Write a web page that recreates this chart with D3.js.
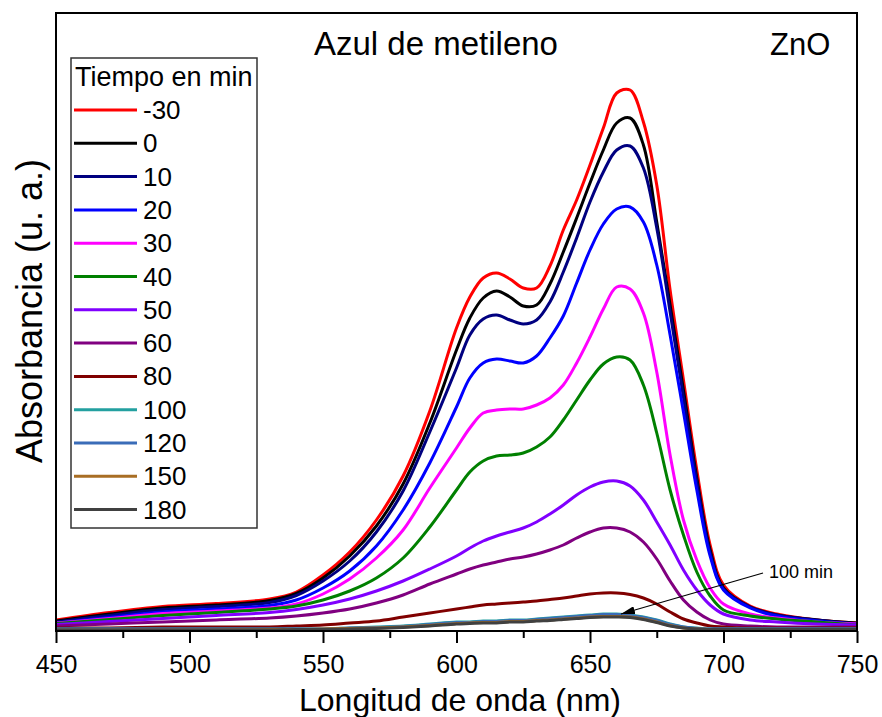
<!DOCTYPE html>
<html>
<head>
<meta charset="utf-8">
<script src="https://cdn.jsdelivr.net/npm/d3@7"></script>
<style>
body { margin: 0; background: #fff; }
text { font-family: Arial, "Liberation Sans", sans-serif; fill: #000; }
</style>
</head>
<body>
<svg id="chart" width="882" height="717"></svg>
<script>
// wavelengths (nm) at which the spectra were read
const wavelength = [450, 470, 490, 510, 530, 540, 550, 560, 570, 580, 590, 600, 605, 610, 615, 620, 625, 630, 635,
    640, 645, 650, 655, 660, 665, 670, 675, 680, 685, 690, 695, 700, 710, 720, 735, 750];

const timeLabels = ["-30", "0", "10", "20", "30", "40", "50", "60", "80", "100", "120", "150", "180"];

const absM30 = [0.022, 0.037, 0.049, 0.055, 0.064, 0.078, 0.112, 0.158, 0.222, 0.310, 0.440, 0.606, 0.668, 0.706, 0.716, 0.704, 0.686, 0.686, 0.730,
    0.802, 0.862, 0.932, 1.006, 1.076, 1.082, 1.018, 0.892, 0.682, 0.502, 0.322, 0.172, 0.092, 0.050, 0.034, 0.022, 0.016];
const abs0 = [0.020, 0.034, 0.046, 0.052, 0.061, 0.075, 0.106, 0.150, 0.210, 0.294, 0.416, 0.562, 0.626, 0.666, 0.680, 0.668, 0.650, 0.652, 0.694,
    0.758, 0.826, 0.896, 0.962, 1.016, 1.026, 0.972, 0.818, 0.652, 0.482, 0.306, 0.162, 0.086, 0.048, 0.032, 0.022, 0.016];
const abs10 = [0.018, 0.031, 0.043, 0.049, 0.057, 0.071, 0.100, 0.140, 0.198, 0.280, 0.398, 0.526, 0.592, 0.624, 0.632, 0.622, 0.614, 0.622, 0.658,
    0.718, 0.786, 0.858, 0.918, 0.962, 0.970, 0.926, 0.806, 0.638, 0.468, 0.298, 0.156, 0.084, 0.048, 0.032, 0.022, 0.014];
const abs20 = [0.016, 0.027, 0.038, 0.044, 0.051, 0.062, 0.086, 0.120, 0.170, 0.242, 0.336, 0.448, 0.506, 0.536, 0.544, 0.540, 0.536, 0.550, 0.586,
    0.630, 0.696, 0.762, 0.814, 0.844, 0.848, 0.818, 0.732, 0.592, 0.438, 0.282, 0.150, 0.082, 0.046, 0.030, 0.020, 0.014];
const abs30 = [0.016, 0.025, 0.035, 0.040, 0.046, 0.054, 0.074, 0.104, 0.146, 0.202, 0.286, 0.366, 0.406, 0.436, 0.442, 0.444, 0.444, 0.452, 0.466,
    0.492, 0.536, 0.588, 0.644, 0.688, 0.684, 0.636, 0.518, 0.352, 0.222, 0.142, 0.086, 0.054, 0.034, 0.026, 0.018, 0.014];
const abs40 = [0.015, 0.023, 0.031, 0.037, 0.044, 0.050, 0.062, 0.080, 0.106, 0.146, 0.208, 0.282, 0.318, 0.340, 0.350, 0.352, 0.356, 0.368, 0.388,
    0.422, 0.462, 0.502, 0.534, 0.548, 0.542, 0.492, 0.396, 0.282, 0.192, 0.118, 0.070, 0.042, 0.030, 0.024, 0.018, 0.012];
const abs50 = [0.013, 0.019, 0.025, 0.031, 0.037, 0.043, 0.052, 0.064, 0.080, 0.100, 0.124, 0.150, 0.166, 0.180, 0.190, 0.198, 0.206, 0.218, 0.234,
    0.252, 0.272, 0.288, 0.298, 0.300, 0.290, 0.262, 0.218, 0.172, 0.122, 0.082, 0.052, 0.034, 0.022, 0.018, 0.014, 0.012];
const abs60 = [0.010, 0.014, 0.018, 0.022, 0.026, 0.030, 0.036, 0.044, 0.056, 0.072, 0.094, 0.114, 0.124, 0.132, 0.138, 0.144, 0.148, 0.154, 0.162,
    0.172, 0.186, 0.198, 0.206, 0.206, 0.198, 0.178, 0.144, 0.100, 0.062, 0.038, 0.022, 0.014, 0.010, 0.008, 0.008, 0.008];
const abs80 = [0.006, 0.006, 0.008, 0.008, 0.008, 0.010, 0.012, 0.016, 0.020, 0.028, 0.036, 0.044, 0.048, 0.052, 0.054, 0.056, 0.058, 0.060, 0.063,
    0.066, 0.070, 0.074, 0.076, 0.076, 0.073, 0.066, 0.054, 0.038, 0.024, 0.016, 0.010, 0.008, 0.006, 0.006, 0.006, 0.006];
const abs100 = [0.004, 0.004, 0.004, 0.004, 0.004, 0.004, 0.004, 0.006, 0.008, 0.010, 0.014, 0.018, 0.018, 0.020, 0.020, 0.022, 0.022, 0.024, 0.026,
    0.028, 0.030, 0.032, 0.034, 0.034, 0.032, 0.028, 0.022, 0.014, 0.008, 0.006, 0.004, 0.004, 0.004, 0.004, 0.004, 0.004];
const abs120 = [0.004, 0.004, 0.004, 0.004, 0.004, 0.004, 0.004, 0.006, 0.007, 0.009, 0.013, 0.017, 0.017, 0.019, 0.019, 0.021, 0.021, 0.023, 0.025,
    0.027, 0.029, 0.031, 0.033, 0.033, 0.031, 0.027, 0.021, 0.013, 0.008, 0.005, 0.004, 0.004, 0.004, 0.004, 0.004, 0.004];
const abs150 = [0.002, 0.002, 0.002, 0.002, 0.003, 0.003, 0.004, 0.005, 0.006, 0.008, 0.011, 0.015, 0.016, 0.017, 0.017, 0.019, 0.019, 0.021, 0.022,
    0.024, 0.026, 0.028, 0.029, 0.029, 0.028, 0.024, 0.018, 0.011, 0.006, 0.004, 0.003, 0.003, 0.003, 0.003, 0.003, 0.003];
const abs180 = [0.002, 0.002, 0.002, 0.002, 0.002, 0.003, 0.003, 0.004, 0.005, 0.007, 0.010, 0.014, 0.015, 0.016, 0.016, 0.018, 0.018, 0.020, 0.021,
    0.023, 0.025, 0.027, 0.028, 0.028, 0.027, 0.023, 0.017, 0.010, 0.006, 0.004, 0.003, 0.003, 0.003, 0.003, 0.003, 0.003];

const spectra = [absM30, abs0, abs10, abs20, abs30, abs40, abs50, abs60, abs80, abs100, abs120, abs150, abs180];
const lineColors = ["#ff0000", "#000000", "#000080", "#0000ff", "#ff00ff", "#008000", "#8000ff", "#800080", "#800000",
    "#23a0a0", "#3a6cb8", "#a86e24", "#404040"];

const xTicks = [450, 500, 550, 600, 650, 700, 750];
const xMinor = [475, 525, 575, 625, 675, 725];

const svg = d3.select("#chart");
const pLeft = 56, pRight = 857, pTop = 13, pBottom = 631;

const x = d3.scaleLinear().domain([450, 750]).range([pLeft, pRight]);
const y = d3.scaleLinear().domain([0, 1.236]).range([pBottom, pTop]);

const defs = svg.append("defs");
defs.append("clipPath").attr("id", "plotclip")
    .append("rect")
    .attr("x", pLeft).attr("y", pTop)
    .attr("width", pRight - pLeft).attr("height", pBottom - pTop);

// spectra, first one at the bottom of the stack
const line = d3.line()
    .x((d, i) => x(wavelength[i]))
    .y(d => y(d))
    .curve(d3.curveCatmullRom.alpha(0.5));

svg.append("g").attr("clip-path", "url(#plotclip)")
    .selectAll("path")
    .data(spectra)
    .join("path")
    .attr("d", d => line(d))
    .attr("fill", "none")
    .attr("stroke", (d, i) => lineColors[i])
    .attr("stroke-width", 3)
    .attr("stroke-linejoin", "round");

// bottom axis: long major ticks, short minor ones
const axisMajor = d3.axisBottom(x).tickValues(xTicks).tickSize(12).tickPadding(12).tickFormat(d3.format("d"));
const axisMinor = d3.axisBottom(x).tickValues(xMinor).tickSize(7).tickFormat("");

const gx = svg.append("g").attr("transform", `translate(0,${pBottom})`).call(axisMajor);
gx.select(".domain").remove();
gx.selectAll(".tick line").attr("stroke", "#000").attr("stroke-width", 2);
gx.selectAll(".tick text").attr("font-size", 25).attr("font-family", "Arial, 'Liberation Sans', sans-serif");

const gm = svg.append("g").attr("transform", `translate(0,${pBottom})`).call(axisMinor);
gm.select(".domain").remove();
gm.selectAll(".tick line").attr("stroke", "#000").attr("stroke-width", 2);

svg.append("rect")
    .attr("x", pLeft).attr("y", pTop)
    .attr("width", pRight - pLeft).attr("height", pBottom - pTop)
    .attr("fill", "none").attr("stroke", "#000").attr("stroke-width", 2);

// titles
svg.append("text").attr("x", 436).attr("y", 55).attr("text-anchor", "middle")
    .attr("font-size", 33).text("Azul de metileno");
svg.append("text").attr("x", 770).attr("y", 55).attr("font-size", 31).text("ZnO");
svg.append("text").attr("x", 460).attr("y", 711).attr("text-anchor", "middle")
    .attr("font-size", 32).text("Longitud de onda (nm)");
svg.append("text").attr("transform", "translate(42,311) rotate(-90)").attr("text-anchor", "middle")
    .attr("font-size", 36).text("Absorbancia (u. a.)");

// legend
const lg = svg.append("g");
lg.append("rect").attr("x", 71).attr("y", 58).attr("width", 186).attr("height", 470)
    .attr("fill", "#fff").attr("stroke", "#333").attr("stroke-width", 1.5);
lg.append("text").attr("x", 75).attr("y", 86).attr("font-size", 27).text("Tiempo en min");
const rows = lg.selectAll("g.row").data(timeLabels).join("g")
    .attr("class", "row")
    .attr("transform", (d, i) => `translate(0,${110 + i * 33.3})`);
rows.append("line").attr("x1", 74).attr("x2", 137)
    .attr("stroke", (d, i) => lineColors[i]).attr("stroke-width", 3);
rows.append("text").attr("x", 143).attr("y", 9).attr("font-size", 26).text(d => d);

// annotation arrow for the 100 min curve
defs.append("marker")
    .attr("id", "head").attr("viewBox", "0 0 14 8").attr("refX", 14).attr("refY", 4)
    .attr("markerWidth", 14).attr("markerHeight", 8).attr("markerUnits", "userSpaceOnUse")
    .attr("orient", "auto")
    .append("path").attr("d", "M0,0L14,4L0,8Z").attr("fill", "#000");
svg.append("line")
    .attr("x1", x(714.8)).attr("y1", y(0.116))
    .attr("x2", x(661.6)).attr("y2", y(0.034))
    .attr("stroke", "#000").attr("stroke-width", 1.2)
    .attr("marker-end", "url(#head)");
svg.append("text").attr("x", x(717)).attr("y", y(0.106)).attr("font-size", 18).text("100 min");
</script>
</body>
</html>
